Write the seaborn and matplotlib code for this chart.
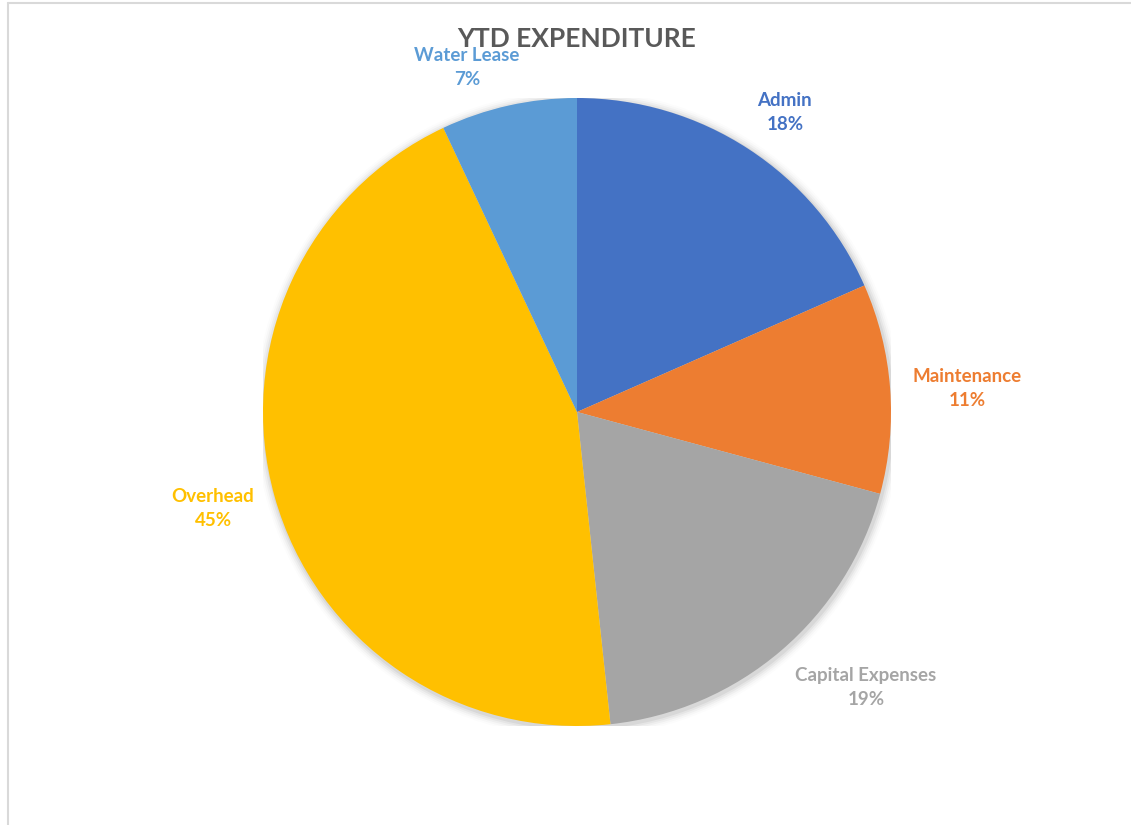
import numpy as np
import matplotlib
matplotlib.use('Agg')
import matplotlib.pyplot as plt
import seaborn as sns
from matplotlib.lines import Line2D

# YTD expenditure shares (percent)
categories = ['Admin', 'Maintenance', 'Capital Expenses', 'Overhead', 'Water Lease']
shares = [18.4, 10.8, 19.1, 44.7, 7.0]
colors = ['#4472C4', '#ED7D31', '#A5A5A5', '#FFC000', '#5B9BD5']
# label centres, in pie radii from the centre (Excel "best fit" placement)
label_pos = [(0.662, 0.955), (1.242, 0.075), (0.920, -0.876), (-1.159, -0.306), (-0.350, 1.098)]

sns.set_theme(style='white')
plt.rcParams['font.family'] = ['Lato', 'DejaVu Sans']

fig = plt.figure(figsize=(11.31, 8.25), dpi=100)
W, H = 1131, 825
cx, cy, r = 577, 412, 314
ax = fig.add_axes([(cx - r) / W, 1 - (cy + r) / H, 2 * r / W, 2 * r / H])

# soft shadow around the pie
for i, a in enumerate([0.05, 0.04, 0.03, 0.02, 0.01]):
    ax.add_patch(plt.Circle((0.004, -0.006), 1.0 + 0.006 * (i + 1), color='black',
                            alpha=a, lw=0, zorder=0))

wedges, _ = ax.pie(shares, colors=sns.color_palette(colors), startangle=90,
                   counterclock=False, radius=1.0,
                   wedgeprops=dict(linewidth=0, edgecolor='none'))

for name, val, col, (lx, ly) in zip(categories, shares, colors, label_pos):
    ax.text(lx, ly, f'{name}\n{round(val):.0f}%',
            ha='center', va='center', color=col, fontsize=13.5, fontweight='bold',
            linespacing=1.5, clip_on=False)

ax.set_xlim(-1, 1)
ax.set_ylim(-1, 1)
ax.set_aspect('auto')
ax.axis('off')

fig.text(577 / W, 1 - 39 / H, 'YTD EXPENDITURE', ha='center', va='center',
         fontsize=19, fontweight='bold', color='#595959')

# chart area border (top and left edges visible)
fig.add_artist(Line2D([8 / W, 1], [1 - 3 / H, 1 - 3 / H], color='#D9D9D9', lw=1.5))
fig.add_artist(Line2D([8 / W, 8 / W], [0, 1 - 3 / H], color='#D9D9D9', lw=1.5))

fig.savefig('out.png', dpi=100, facecolor='white')
